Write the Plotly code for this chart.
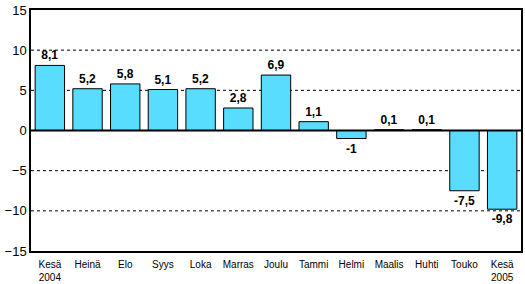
import plotly.graph_objects as go

categories = ["Kesä<br>2004", "Heinä", "Elo", "Syys", "Loka", "Marras", "Joulu",
              "Tammi", "Helmi", "Maalis", "Huhti", "Touko", "Kesä<br>2005"]
values = [8.1, 5.2, 5.8, 5.1, 5.2, 2.8, 6.9, 1.1, -1, 0.1, 0.1, -7.5, -9.8]
labels = ["8,1", "5,2", "5,8", "5,1", "5,2", "2,8", "6,9", "1,1", "-1", "0,1", "0,1", "-7,5", "-9,8"]
y_ticks = [-15, -10, -5, 0, 5, 10, 15]

fig = go.Figure()
fig.add_trace(go.Bar(
    x=list(range(len(categories))), y=values, text=labels,
    textposition="outside", cliponaxis=False,
    textfont=dict(family="Liberation Sans, Arial", size=12, color="black", weight="bold"),
    marker=dict(color="#58DCFF", line=dict(color="black", width=1)),
    width=0.78,
))
for v in [-10, -5, 5, 10]:
    fig.add_hline(y=v, line=dict(color="black", width=1, dash="3px,3px"), layer="below")
fig.add_hline(y=0, line=dict(color="black", width=2), layer="above")

fig.update_layout(
    width=525, height=284, margin=dict(l=31, r=4, t=10, b=33),
    paper_bgcolor="white", plot_bgcolor="white", showlegend=False,
    font=dict(family="Liberation Sans, Arial", color="black"),
    xaxis=dict(tickmode="array", tickvals=list(range(len(categories))), ticktext=categories,
               range=[-0.5, len(categories) - 0.5], showgrid=False, zeroline=False,
               showline=True, linecolor="black", linewidth=1.5, mirror=True,
               tickfont=dict(size=10), ticks="", ticklabelstandoff=3, automargin=False),
    yaxis=dict(range=[-15, 15], tickvals=y_ticks, showgrid=False, zeroline=False,
               showline=True, linecolor="black", linewidth=1.5, mirror=True,
               tickfont=dict(size=13), ticks="", ticklen=0, automargin=False),
)
fig.write_html("out.html")
